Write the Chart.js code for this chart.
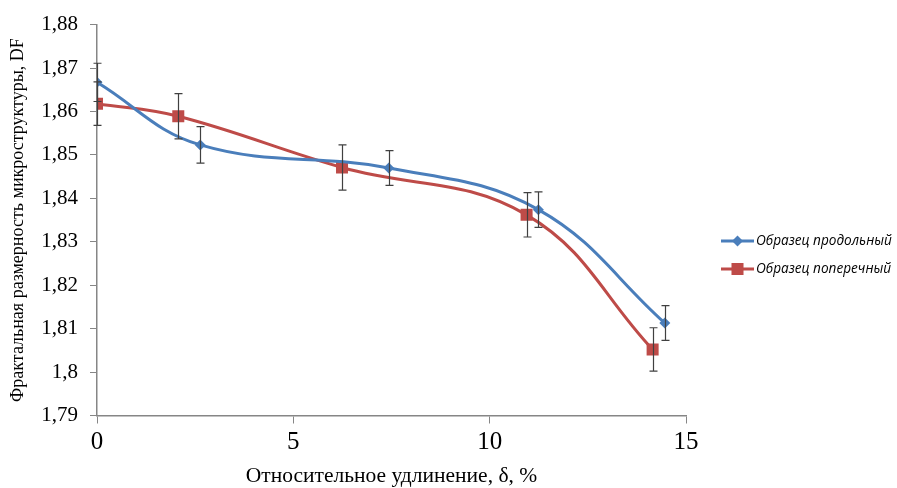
<!DOCTYPE html>
<html>
<head>
<meta charset="utf-8">
<script src="https://cdn.jsdelivr.net/npm/chart.js@4"></script>
<style>
  html, body { margin: 0; padding: 0; background: #fff; }
  #wrap { width: 897px; height: 488px; position: relative; }
</style>
</head>
<body>
<div id="wrap"><canvas id="myChart"></canvas></div>
<script>
// Образец продольный
var xLong = [0, 2.63, 7.43, 11.24, 14.46];
var yLong = [1.8667, 1.8523, 1.8470, 1.8374, 1.8113];
var errLong = [0.0044, 0.0042, 0.0040, 0.0041, 0.0040];
// Образец поперечный
var xTrans = [0, 2.07, 6.24, 10.94, 14.15];
var yTrans = [1.8618, 1.8589, 1.8471, 1.8362, 1.8052];
var errTrans = [0.0050, 0.0052, 0.0052, 0.0051, 0.0050];

var seriesNames = ['Образец продольный', 'Образец поперечный'];
var xTicks = [0, 5, 10, 15];

function toPoints(xs, ys) {
    var pts = [];
    for (var i in xs) {
        pts.push({x: xs[i], y: ys[i]});
    }
    return pts;
}

// error bars drawn through the chart scales
var errorBars = {
    id: 'errorBars',
    afterDatasetsDraw: function(chart) {
        var ctx = chart.ctx;
        var xs = chart.scales.x, ys = chart.scales.y;
        var sets = [[xLong, yLong, errLong], [xTrans, yTrans, errTrans]];
        ctx.save();
        ctx.strokeStyle = '#404040';
        ctx.lineWidth = 1.2;
        sets.forEach(function(s) {
            for (var i = 0; i < s[0].length; i++) {
                var px = Math.round(xs.getPixelForValue(s[0][i])) + 0.5;
                var top = ys.getPixelForValue(s[1][i] + s[2][i]);
                var bot = ys.getPixelForValue(s[1][i] - s[2][i]);
                ctx.beginPath();
                ctx.moveTo(px, top); ctx.lineTo(px, bot);
                ctx.moveTo(px - 4, top); ctx.lineTo(px + 4, top);
                ctx.moveTo(px - 4, bot); ctx.lineTo(px + 4, bot);
                ctx.stroke();
            }
        });
        ctx.restore();
    }
};

// legend on the right like in Excel
var sideLegend = {
    id: 'sideLegend',
    afterDraw: function(chart) {
        var ctx = chart.ctx;
        var rows = [241, 269];
        ctx.save();
        chart.data.datasets.forEach(function(ds, i) {
            var y = rows[i];
            ctx.strokeStyle = ds.borderColor;
            ctx.lineWidth = 3;
            ctx.beginPath();
            ctx.moveTo(721, y); ctx.lineTo(754, y);
            ctx.stroke();
            ctx.fillStyle = ds.backgroundColor;
            Chart.helpers.drawPoint(ctx, {pointStyle: ds.pointStyle, radius: ds.pointRadius, borderWidth: 0}, 737.5, y);
            ctx.fillStyle = '#000';
            ctx.font = 'italic 13.6px "Open Sans"';
            ctx.textBaseline = 'middle';
            ctx.fillText(ds.label, 756, y);
        });
        ctx.restore();
    }
};

var ctx = document.getElementById('myChart');
var chart = new Chart(ctx, {
    type: 'line',
    data: {
        datasets: [{
            label: seriesNames[0],
            data: toPoints(xLong, yLong),
            borderColor: '#4A7EBB',
            backgroundColor: '#4A7EBB',
            borderWidth: 3,
            pointStyle: 'rectRot',
            pointRadius: 5.5,
            pointBorderWidth: 0,
            tension: 0.4
        }, {
            label: seriesNames[1],
            data: toPoints(xTrans, yTrans),
            borderColor: '#BE4B48',
            backgroundColor: '#BE4B48',
            borderWidth: 3,
            pointStyle: 'rect',
            pointRadius: 8.5,
            pointBorderWidth: 0,
            tension: 0.4
        }]
    },
    options: {
        responsive: true,
        maintainAspectRatio: false,
        animation: false,
        layout: {padding: {top: 20, right: 211, bottom: 0, left: 0}},
        plugins: {
            legend: {display: false},
            tooltip: {enabled: false}
        },
        scales: {
            x: {
                type: 'linear',
                min: 0, max: 15,
                afterBuildTicks: function(s) {
                    s.ticks = xTicks.map(function(v) { return {value: v}; });
                },
                grid: {drawOnChartArea: false, tickLength: 8, color: '#868686'},
                border: {color: '#868686', width: 1.5},
                ticks: {color: '#000', padding: 4, font: {family: 'Liberation Serif', size: 25}},
                title: {
                    display: true,
                    text: 'Относительное удлинение, δ, %',
                    color: '#000',
                    font: {family: 'Liberation Serif', size: 21.5, lineHeight: 1},
                    padding: {top: 4, bottom: 1}
                }
            },
            y: {
                min: 1.79, max: 1.88,
                afterFit: function(s) { s.width = 97; },
                grid: {drawOnChartArea: false, tickLength: 7, color: '#868686'},
                border: {color: '#868686', width: 1.5},
                ticks: {
                    stepSize: 0.01,
                    color: '#000',
                    padding: 12,
                    font: {family: 'Liberation Serif', size: 21},
                    callback: function(v) {
                        return parseFloat(v.toFixed(2)).toString().replace('.', ',');
                    }
                },
                title: {
                    display: true,
                    text: 'Фрактальная размерность микроструктуры, DF',
                    color: '#000',
                    font: {family: 'Liberation Serif', size: 18},
                    padding: {top: 7, bottom: 0}
                }
            }
        }
    },
    plugins: [errorBars, sideLegend]
});
</script>
</body>
</html>
